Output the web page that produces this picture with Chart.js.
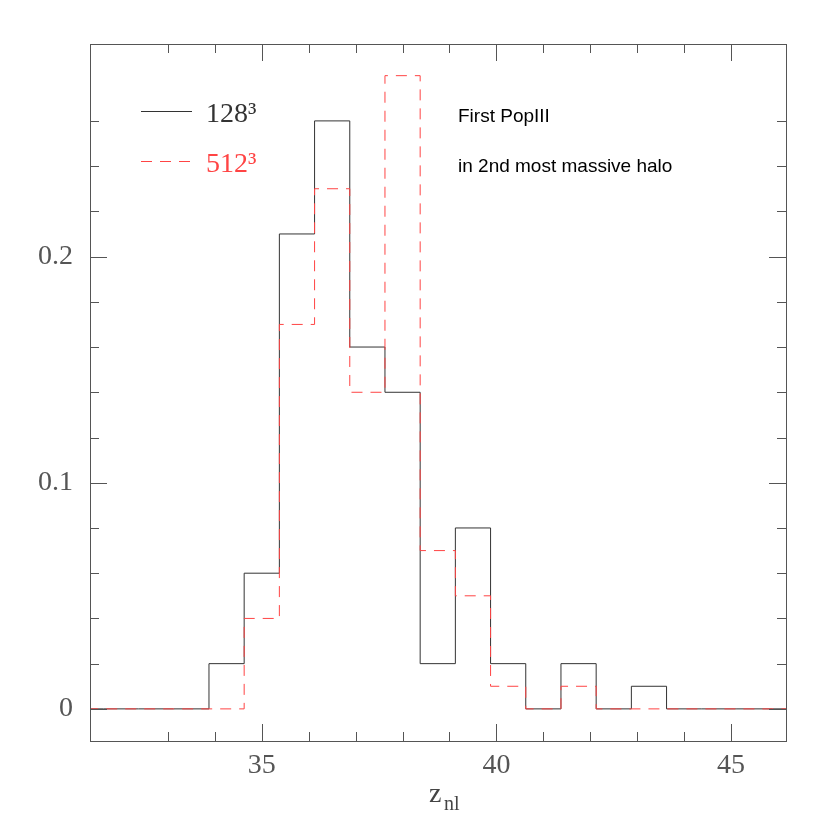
<!DOCTYPE html>
<html>
<head>
<meta charset="utf-8">
<script src="https://cdn.jsdelivr.net/npm/chart.js@4"></script>
<style>
  body { margin: 0; background: #fff; }
</style>
</head>
<body>
<canvas id="myChart" width="830" height="830"></canvas>
<script>
// left edges of the histogram bins (z_nl), last entry closes the final bin
const binEdges = [30.875, 31.625, 32.375, 33.125, 33.875, 34.625, 35.375, 36.125, 36.875, 37.625,
                  38.375, 39.125, 39.875, 40.625, 41.375, 42.125, 42.875, 43.625, 44.375, 45.125,
                  45.875, 46.625];
const frac128 = [0, 0, 0, 0, 0.02, 0.06, 0.21, 0.26, 0.16, 0.14,
                 0.02, 0.08, 0.02, 0, 0.02, 0, 0.01, 0, 0, 0, 0];
const frac512 = [0, 0, 0, 0, 0, 0.04, 0.17, 0.23, 0.14, 0.28,
                 0.07, 0.05, 0.01, 0, 0.01, 0, 0, 0, 0, 0, 0];
const seriesLabels = ["128\u00B3", "512\u00B3"];
const noteLines = ["First PopIII", "in 2nd most massive halo"];

const serif = "'Liberation Serif', 'DejaVu Serif', serif";
const sans = "'Liberation Sans', Arial, sans-serif";
const inkBlack = "#333";
const inkRed = "#ff4444";

// histogram outline: step points at each bin edge
function steps(vals) {
  const pts = vals.map((v, i) => ({ x: binEdges[i], y: v }));
  pts.push({ x: binEdges[binEdges.length - 1], y: vals[vals.length - 1] });
  return pts;
}

const isMult = (v, s) => Math.abs(v / s - Math.round(v / s)) < 1e-6;

const frame = {
  id: "frame",
  afterDatasetsDraw(chart) {
    const { ctx, chartArea: a, scales } = chart;
    const xs = scales.x, ys = scales.y;
    ctx.save();
    ctx.strokeStyle = "#555";
    ctx.lineWidth = 1;
    ctx.strokeRect(a.left + 0.5, a.top + 0.5, a.right - a.left, a.bottom - a.top);

    ctx.beginPath();
    xs.ticks.forEach(t => {
      if (!isMult(t.value, 1)) return;
      const px = Math.round(xs.getPixelForValue(t.value)) + 0.5;
      const len = isMult(t.value, 5) ? 17 : 9;
      ctx.moveTo(px, a.bottom); ctx.lineTo(px, a.bottom - len);
      ctx.moveTo(px, a.top); ctx.lineTo(px, a.top + len);
    });
    ys.ticks.forEach(t => {
      if (!isMult(t.value, 0.02)) return;
      const py = Math.round(ys.getPixelForValue(t.value)) + 0.5;
      const len = isMult(t.value, 0.1) ? 17 : 9;
      ctx.moveTo(a.left, py); ctx.lineTo(a.left + len, py);
      ctx.moveTo(a.right, py); ctx.lineTo(a.right - len, py);
    });
    ctx.stroke();

    // legend
    const ds = chart.data.datasets;
    const legendRows = [
      { label: seriesLabels[0], color: inkBlack, dash: [], y: 111 },
      { label: seriesLabels[1], color: inkRed, dash: [11, 8], y: 161 }
    ];
    legendRows.forEach(r => {
      ctx.strokeStyle = r.color;
      ctx.setLineDash(r.dash);
      ctx.beginPath();
      ctx.moveTo(141, r.y + 0.5); ctx.lineTo(192, r.y + 0.5);
      ctx.stroke();
      ctx.setLineDash([]);
      ctx.fillStyle = r.color;
      ctx.font = "28px " + serif;
      ctx.textBaseline = "alphabetic";
      ctx.fillText(r.label, 206, r.y + 11);
    });

    // annotation
    ctx.fillStyle = "#000";
    ctx.font = "19px " + sans;
    ctx.fillText(noteLines[0], 458, 122);
    ctx.fillText(noteLines[1], 458, 172);

    // x axis title z_nl
    ctx.fillStyle = "#444";
    ctx.font = "28px " + serif;
    ctx.fillText("z", 429, 802);
    ctx.font = "20px " + serif;
    ctx.fillText("nl", 444, 810);
    ctx.restore();
  }
};

const ctx = document.getElementById("myChart").getContext("2d");

const data = {
  datasets: [
    {
      label: seriesLabels[0],
      data: steps(frac128),
      stepped: true,
      borderColor: inkBlack,
      borderWidth: 1,
      pointRadius: 0,
      fill: false,
      order: 1
    },
    {
      label: seriesLabels[1],
      data: steps(frac512),
      stepped: true,
      borderColor: inkRed,
      borderWidth: 1,
      borderDash: [11, 8],
      pointRadius: 0,
      fill: false,
      order: 0
    }
  ]
};

const config = {
  type: "line",
  data: data,
  options: {
    responsive: false,
    animation: false,
    devicePixelRatio: 1,
    layout: { padding: { top: 44, right: 44, left: 0, bottom: 0 } },
    plugins: { legend: { display: false }, tooltip: { enabled: false } },
    scales: {
      x: {
        type: "linear",
        min: 31.34,
        max: 46.17,
        grid: { display: false, drawTicks: false },
        border: { display: false },
        ticks: {
          stepSize: 1,
          autoSkip: false,
          maxRotation: 0,
          padding: 8,
          color: "#555",
          font: { family: serif, size: 28 },
          callback: v => (isMult(v, 5) ? String(v) : "")
        },
        afterFit: s => { s.height = 89; }
      },
      y: {
        type: "linear",
        min: -0.0142,
        max: 0.294,
        grid: { display: false, drawTicks: false },
        border: { display: false },
        ticks: {
          stepSize: 0.02,
          autoSkip: false,
          padding: 17,
          color: "#555",
          font: { family: serif, size: 28 },
          callback: v => (isMult(v, 0.02) && isMult(v, 0.1) ? String(Math.round(v * 10) / 10) : "")
        },
        afterFit: s => { s.width = 90; }
      }
    }
  },
  plugins: [frame]
};

const myChart = new Chart(ctx, config);
</script>
</body>
</html>
